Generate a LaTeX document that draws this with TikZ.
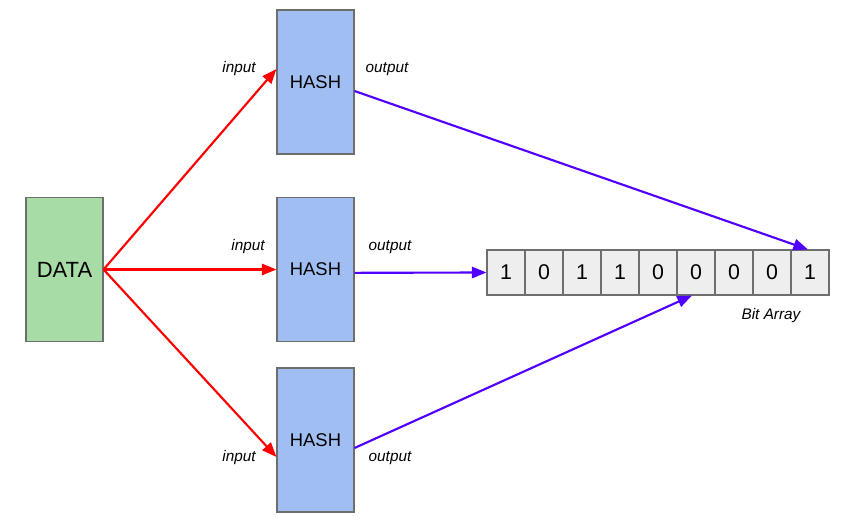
\documentclass[tikz,border=0pt]{standalone}
\usepackage{fontspec}
\setmainfont{Liberation Sans}
\usepackage{xcolor}
\usetikzlibrary{arrows.meta}

\definecolor{datagreen}{RGB}{168,220,166}
\definecolor{hashblue}{RGB}{160,190,242}
\definecolor{cellgray}{RGB}{238,238,238}
\definecolor{boxline}{RGB}{110,110,110}
\definecolor{outblue}{RGB}{80,0,255}

\tikzset{
  box/.style={draw=boxline, line width=0.8pt, minimum width=57.75pt, minimum height=108pt, inner sep=0pt},
  bitcell/.style={draw=boxline, line width=0.8pt, fill=cellgray, minimum width=28.5pt, minimum height=33.75pt, inner sep=0pt, font=\fontsize{16}{16}\selectfont},
  lbl/.style={font=\fontsize{11.5}{13}\selectfont\itshape},
  inarrow/.style={red, line width=1.6pt, -{Triangle[length=11pt, width=8.5pt]}},
  outarrow/.style={outblue, line width=1.6pt, -{Triangle[length=11pt, width=8.5pt]}}
}

\begin{document}
\begin{tikzpicture}[x=0.75pt, y=-0.75pt]
  \useasboundingbox (0,0) rectangle (854,524);

  \node[box, fill=datagreen, font=\fontsize{16.5}{17}\selectfont] (data) at (64.5,269.5) {DATA};

  \node[box, fill=hashblue, font=\fontsize{13.8}{14}\selectfont] (h1) at (315.5,82) {HASH};
  \node[box, fill=hashblue, font=\fontsize{13.8}{14}\selectfont] (h2) at (315.5,269.5) {HASH};
  \node[box, fill=hashblue, font=\fontsize{13.8}{14}\selectfont] (h3) at (315.5,440) {HASH};

  % bit array
  \foreach \b [count=\i] in {1,0,1,1,0,0,0,0,1}
    \node[bitcell] (b\i) at (487+38*\i-19,272.5) {\b};
  \node[lbl] (bitlbl) at (771,316) {Bit Array};

  % data -> hash
  \draw[inarrow] (data.east) -- ([yshift=9.75pt]h1.west);
  \draw[inarrow] (data.east) -- (h2.west);
  \draw[inarrow] (data.east) -- ([yshift=-12.75pt]h3.west);

  \node[lbl] (in1) at (239,69) {input};
  \node[lbl] (in2) at (248,247) {input};
  \node[lbl] (in3) at (239,458) {input};

  % hash -> bit array
  \draw[outarrow] ([yshift=-6.75pt]h1.east) -- ([xshift=-1.5pt]b9.north);
  \draw[outarrow] ([yshift=-2.5pt]h2.east) -- (b1.west);
  \draw[outarrow] ([yshift=-6pt]h3.east) -- ([xshift=-3pt]b6.south);

  \node[lbl] (out1) at (387,69) {output};
  \node[lbl] (out2) at (390,247) {output};
  \node[lbl] (out3) at (390,458) {output};
\end{tikzpicture}
\end{document}
